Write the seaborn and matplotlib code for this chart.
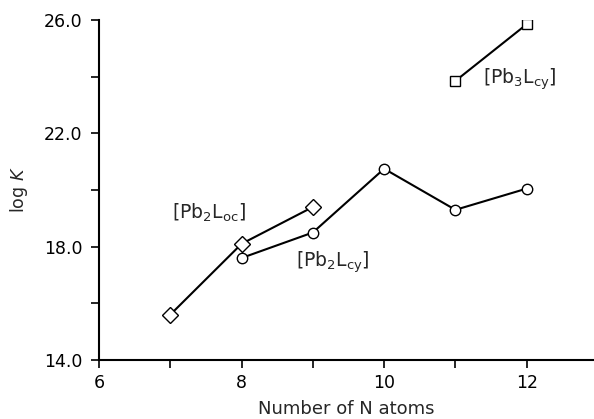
import matplotlib
matplotlib.use("Agg")
import matplotlib.pyplot as plt
import seaborn as sns
import pandas as pd

# data
oc_x = [7, 8, 9]
oc_y = [15.6, 18.1, 19.4]
cy2_x = [8, 9, 10, 11, 12]
cy2_y = [17.6, 18.5, 20.75, 19.3, 20.05]
cy3_x = [11, 12]
cy3_y = [23.85, 25.85]

labels = ["[Pb$_2$L$_{\\rm oc}$]", "[Pb$_2$L$_{\\rm cy}$]", "[Pb$_3$L$_{\\rm cy}$]"]

sns.set_theme(style="ticks")
plt.rcParams['font.family'] = ['DejaVu Sans']
plt.rcParams['mathtext.fontset'] = 'dejavusans'

fig = plt.figure(figsize=(5.94, 4.19), dpi=100)
ax = fig.add_axes([99/594, 1-360/419, (593-99)/594, 340/419])

common = dict(color='black', linewidth=1.5, markerfacecolor='white',
              markeredgecolor='black', markeredgewidth=1.0, ax=ax)
sns.lineplot(x=oc_x, y=oc_y, marker='D', markersize=8, **common)
sns.lineplot(x=cy2_x, y=cy2_y, marker='o', markersize=7.5, **common)
sns.lineplot(x=cy3_x, y=cy3_y, marker='s', markersize=7, **common)

ax.text(7.03, 19.2, labels[0], fontsize=13.5, va='center', ha='left')
ax.text(8.77, 17.45, labels[1], fontsize=13.5, va='center', ha='left')
ax.text(11.38, 23.9, labels[2], fontsize=13.5, va='center', ha='left')

ax.set_xlim(6, 12.93)
ax.set_ylim(14, 26)
ax.set_xticks([6, 7, 8, 9, 10, 11, 12])
ax.set_xticklabels(['6', '', '8', '', '10', '', '12'])
ax.set_yticks([14, 16, 18, 20, 22, 24, 26])
ax.set_yticklabels(['14.0', '', '18.0', '', '22.0', '', '26.0'])
ax.tick_params(axis='both', direction='out', length=6, width=1.2, labelsize=12.5, colors='black')
ax.tick_params(axis='y', pad=6)
ax.tick_params(axis='x', pad=4)
for s in ['top', 'right']:
    ax.spines[s].set_visible(False)
for s in ['left', 'bottom']:
    ax.spines[s].set_linewidth(1.5)
    ax.spines[s].set_color('black')
ax.set_xlabel('Number of N atoms', fontsize=13, labelpad=6)
ax.set_ylabel('log $K$', fontsize=12.5, labelpad=10)

fig.savefig('out.png', dpi=100)
